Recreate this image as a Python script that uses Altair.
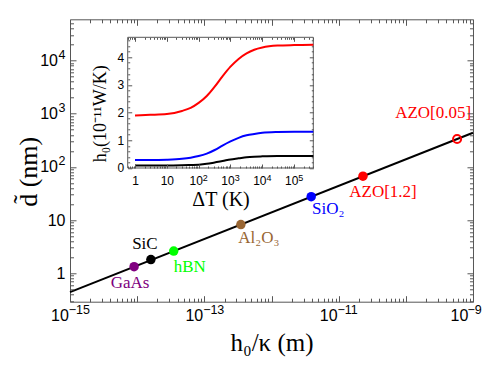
import altair as alt
import pandas as pd

# ---------------- data ----------------
line_x = [1e-15, 1e-9]
line_y = [0.44, 440]

mat_names = ["GaAs", "SiC", "hBN", "Al₂O₃", "SiO₂", "AZO[1.2]", "AZO[0.05]"]
mat_x = [9e-15, 1.6e-14, 3.5e-14, 3.5e-13, 3.9e-12, 2.3e-11, 5.8e-10]
mat_y = [1.32, 1.8, 2.6, 8.2, 27.5, 66.7, 335]
mat_colors = ["#800080", "#000000", "#00ff00", "#996633", "#0000ff", "#ff0000", "#ff0000"]

dT = [1, 3, 10, 30, 56, 100, 180, 320, 560, 1000, 1800, 3200, 5600, 1e4, 3e4, 1e5, 4e5]
h_red = [1.90, 1.92, 1.95, 2.06, 2.17, 2.35, 2.60, 2.94, 3.31, 3.66, 3.94, 4.14, 4.27, 4.35, 4.42, 4.44, 4.45]
h_blue = [0.29, 0.29, 0.30, 0.33, 0.37, 0.43, 0.52, 0.65, 0.81, 0.96, 1.09, 1.18, 1.23, 1.27, 1.30, 1.31, 1.31]
h_black = [0.09, 0.09, 0.09, 0.10, 0.11, 0.12, 0.15, 0.20, 0.25, 0.31, 0.35, 0.39, 0.41, 0.42, 0.43, 0.43, 0.43]

main_x_label_exps = [-15, -13, -11, -9]
main_y_label_exps = [0, 1, 2, 3, 4]
inset_x_label_exps = [0, 1, 2, 3, 4, 5]
inset_y_labels = [0, 1, 2, 3, 4]

# ---------------- layout / style ----------------
W, H = 403, 282.4
IX0, IX1, IY0, IY1 = 57.7, 243.3, 18.0, 148.7
FRAME = "#555555"
SANS = "Liberation Sans"
SERIF = "Liberation Serif"

label_style = {  # dx, dy of each point label
    "GaAs": (-4, 16), "SiC": (-6, -16), "hBN": (16, 16), "Al₂O₃": (18, 13),
    "SiO₂": (17, 12), "AZO[1.2]": (20, 16), "AZO[0.05]": (-24, -26),
}

line_df = pd.DataFrame({"x": line_x, "y": line_y})
mat_df = pd.DataFrame({"name": mat_names, "x": mat_x, "y": mat_y, "c": mat_colors})
n = len(dT)
inset_df = pd.DataFrame({
    "dT": dT * 3,
    "h": h_red + h_blue + h_black,
    "series": ["red"] * n + ["blue"] * n + ["black"] * n,
})

EXP = "round(log(datum.value)/LN10)"


def map_expr(pairs):
    parts = [f"{EXP} == {e} ? '{t}'" for e, t in pairs]
    return " : ".join(parts) + " : ''"


def base_text(e):
    return "1" if e == 0 else "10"


def exp_text(e):
    return "" if e in (0, 1) else str(e).replace("-", "−")


LOG_MAJOR = f"abs(log(datum.value)/LN10 - {EXP}) < 0.0001"
LIN_MAJOR = "abs(datum.value - round(datum.value)) < 0.0001"

main_x_ticks = [k * 10.0 ** e for e in range(-15, -9) for k in range(1, 10)] + [1e-9]
main_y_ticks = [k * 10.0 ** e for e in range(-1, 5) for k in range(1, 10)
                if 0.29 <= k * 10.0 ** e < 6e4]
inset_x_ticks = [k * 10.0 ** e for e in range(-1, 6) for k in range(1, 10)
                 if 0.59 <= k * 10.0 ** e <= 4e5]
inset_y_ticks = [round(0.2 * i, 1) for i in range(0, 24)]

main_xs = alt.Scale(type="log", domain=[1e-15, 1e-9], nice=False)
main_ys = alt.Scale(type="log", domain=[0.29, 6e4], nice=False)
inset_xs = alt.Scale(type="log", domain=[0.59, 4e5], nice=False, range=[IX0, IX1])
inset_ys = alt.Scale(type="linear", domain=[0, 4.72], nice=False, zero=False, range=[IY1, IY0])


def cond(test, a, b):
    return {"condition": {"test": test, "value": a}, "value": b}


def tick_axis(orient, offset, values, test, big, small):
    return alt.Axis(orient=orient, offset=offset, values=values, labels=False,
                    domain=False, grid=False, title="", ticks=True, tickColor=FRAME,
                    tickWidth=1, zindex=1, tickSize=cond(test, big, small))


def label_axis(orient, offset, values, expr, size, padding, **kw):
    return alt.Axis(orient=orient, offset=offset, values=values, labelExpr=expr,
                    ticks=False, domain=False, grid=False, labelFont=SANS,
                    labelFontSize=size, labelColor="black", labelPadding=padding,
                    labelFlush=False, zindex=1, **kw)


# ---------------- main plot ----------------
x_axis_main = label_axis(
    "bottom", 0, [10.0 ** e for e in main_x_label_exps], "'10'", 16, 6,
    labelOffset=cond("datum.value > 1e-10", -14, -10.5),
    title="h₀/κ (m)", titleFont=SERIF, titleFontSize=25, titleFontWeight="normal",
    titleColor="black", titlePadding=7)
y_axis_main = label_axis(
    "left", 0, [10.0 ** e for e in main_y_label_exps],
    map_expr([(e, base_text(e)) for e in main_y_label_exps]), 16,
    cond("datum.value > 50", 12.5, 5),
    title="d̃ (nm)", titleFont=SERIF, titleFontSize=26, titleFontWeight="normal",
    titleColor="black", titlePadding=-2, titleY=152)

line = alt.Chart(line_df).mark_line(color="black", strokeWidth=2).encode(
    x=alt.X("x:Q", scale=main_xs, axis=x_axis_main),
    y=alt.Y("y:Q", scale=main_ys, axis=y_axis_main),
)
filled = alt.Chart(mat_df).transform_filter("datum.name != 'AZO[0.05]'").mark_circle(
    size=90, opacity=1).encode(
    x=alt.X("x:Q", scale=main_xs), y=alt.Y("y:Q", scale=main_ys),
    color=alt.Color("c:N", scale=None),
)
opened = alt.Chart(mat_df).transform_filter("datum.name == 'AZO[0.05]'").mark_point(
    shape="circle", filled=False, size=65, strokeWidth=2, color="#ff0000", opacity=1).encode(
    x=alt.X("x:Q", scale=main_xs), y=alt.Y("y:Q", scale=main_ys),
)
labels = []
for name, col in zip(mat_names, mat_colors):
    dx, dy = label_style[name]
    labels.append(
        alt.Chart(mat_df).transform_filter(f"datum.name == '{name}'").mark_text(
            dx=dx, dy=dy, color=col, font=SERIF, fontSize=17, align="center",
            baseline="middle").encode(
            x=alt.X("x:Q", scale=main_xs), y=alt.Y("y:Q", scale=main_ys), text="name:N")
    )
main = alt.layer(line, filled, opened, *labels)

# exponents of the main tick labels
ghostE = alt.Chart(line_df).mark_point(opacity=0).encode(
    x=alt.X("x:Q", scale=main_xs, axis=label_axis(
        "bottom", 0, [10.0 ** e for e in main_x_label_exps],
        map_expr([(e, exp_text(e)) for e in main_x_label_exps]), 12.5, 2,
        labelAlign="left", labelOffset=cond("datum.value > 1e-10", -6, -1.7), title="")),
    y=alt.Y("y:Q", scale=main_ys, axis=label_axis(
        "left", 0, [10.0 ** e for e in main_y_label_exps],
        map_expr([(e, exp_text(e)) for e in main_y_label_exps]), 12.5, 5,
        labelOffset=-6, title="")),
)

ghostA = alt.Chart(line_df).mark_point(opacity=0).encode(
    x=alt.X("x:Q", scale=main_xs, axis=tick_axis("top", -H, main_x_ticks, LOG_MAJOR, 6, 3.5)),
    y=alt.Y("y:Q", scale=main_ys, axis=tick_axis("right", -W, main_y_ticks, LOG_MAJOR, 6, 3.5)),
)
ghostB = alt.Chart(line_df).mark_point(opacity=0).encode(
    x=alt.X("x:Q", scale=main_xs, axis=tick_axis("bottom", -H, main_x_ticks, LOG_MAJOR, 6, 3.5)),
    y=alt.Y("y:Q", scale=main_ys, axis=tick_axis("left", -W, main_y_ticks, LOG_MAJOR, 6, 3.5)),
)

# ---------------- inset ----------------
frame = alt.Chart(pd.DataFrame({"k": [0]})).mark_rect(
    fill="white", stroke=FRAME, strokeWidth=1).encode(
    x=alt.value(IX0), x2=alt.value(IX1), y=alt.value(IY0), y2=alt.value(IY1))

inset_x_axis = label_axis(
    "bottom", IY1 - H, [10.0 ** e for e in inset_x_label_exps],
    map_expr([(e, base_text(e)) for e in inset_x_label_exps]), 12, 8,
    labelOffset=cond("datum.value > 50", -3, 0),
    title="ΔT (K)", titleFont=SERIF, titleFontSize=20, titleFontWeight="normal",
    titleColor="black", titlePadding=3)
inset_y_axis = label_axis(
    "left", -IX0, inset_y_labels, "datum.label", 12, 4,
    title="h₀(10⁻¹¹W/K)", titleFont=SERIF, titleFontSize=18, titleFontWeight="normal",
    titleColor="black", titlePadding=8, titleY=94)

curves = alt.Chart(inset_df).mark_line(strokeWidth=2, interpolate="monotone").encode(
    x=alt.X("dT:Q", scale=inset_xs, axis=inset_x_axis),
    y=alt.Y("h:Q", scale=inset_ys, axis=inset_y_axis),
    color=alt.Color("series:N", scale=alt.Scale(domain=["red", "blue", "black"],
                                                range=["#ff0000", "#0000ff", "#000000"]),
                    legend=None),
    detail="series:N",
)
ghostF = alt.Chart(inset_df).mark_point(opacity=0).encode(
    x=alt.X("dT:Q", scale=inset_xs, axis=label_axis(
        "bottom", IY1 - H, [10.0 ** e for e in inset_x_label_exps],
        map_expr([(e, exp_text(e)) for e in inset_x_label_exps]), 9, 5.5,
        labelAlign="left", labelOffset=3.7, title="")),
    y=alt.Y("h:Q", scale=inset_ys, axis=None),
)
ghostC = alt.Chart(inset_df).mark_point(opacity=0).encode(
    x=alt.X("dT:Q", scale=inset_xs, axis=tick_axis("top", -IY1, inset_x_ticks, LOG_MAJOR, 4, 2)),
    y=alt.Y("h:Q", scale=inset_ys, axis=tick_axis("right", IX0 - W, inset_y_ticks, LIN_MAJOR, 4, 2)),
)
ghostD = alt.Chart(inset_df).mark_point(opacity=0).encode(
    x=alt.X("dT:Q", scale=inset_xs, axis=tick_axis("bottom", IY0 - H, inset_x_ticks, LOG_MAJOR, 4, 2)),
    y=alt.Y("h:Q", scale=inset_ys, axis=tick_axis("left", -IX1, inset_y_ticks, LIN_MAJOR, 4, 2)),
)

chart = alt.layer(main, ghostE, ghostA, ghostB, frame, curves, ghostF, ghostC, ghostD).resolve_scale(
    x="independent", y="independent", color="independent"
).properties(
    width=W, height=H,
    autosize=alt.AutoSizeParams(type="none"),
    padding={"left": 62, "top": 11.3, "right": 10, "bottom": 57},
    background="white",
).configure_view(stroke=FRAME, strokeWidth=1).configure_axis(grid=False)

chart.save("out.html", embed_options={"renderer": "svg", "actions": False})
